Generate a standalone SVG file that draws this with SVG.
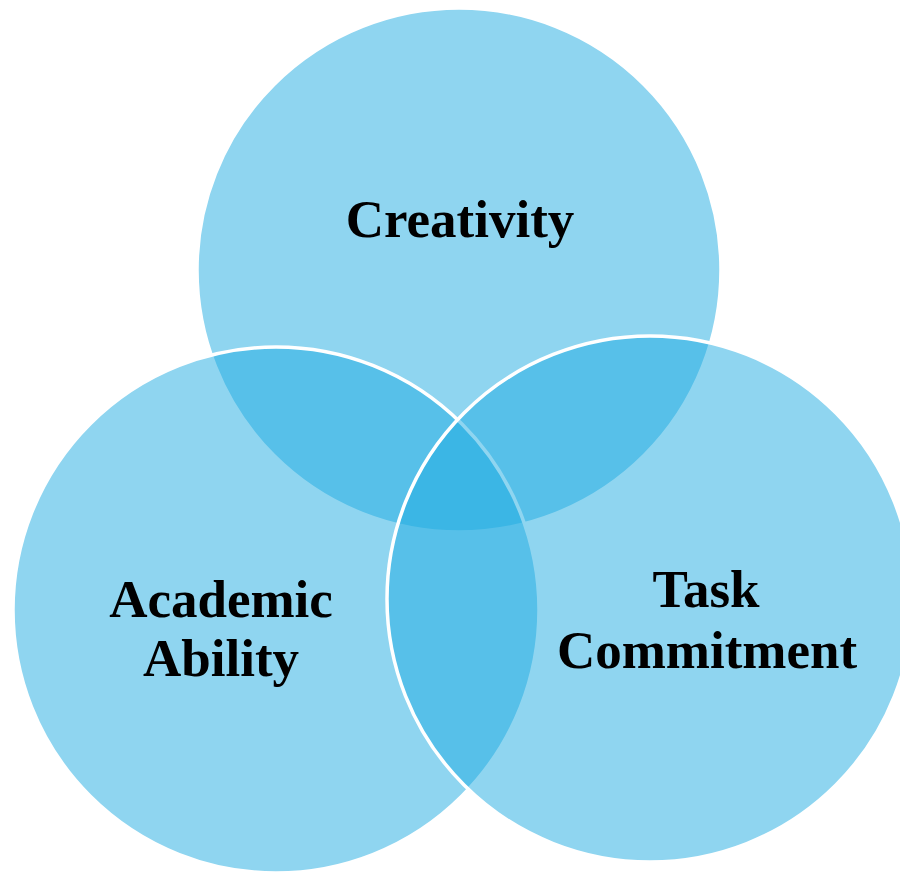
<svg xmlns="http://www.w3.org/2000/svg" width="900" height="872" viewBox="0 0 900 872">
<style>
.c{fill:rgb(31,171,225);fill-opacity:0.5;stroke:#fff;stroke-width:3.5}
.t{font-family:"Liberation Serif","Times New Roman",serif;font-weight:bold;font-size:53px;fill:#000;text-anchor:middle}
</style>
<rect width="900" height="872" fill="#fff"/>
<g id="creativity">
<circle class="c" cx="459" cy="270" r="262"/>
</g>
<g id="academic">
<circle class="c" cx="276" cy="610" r="263"/>
</g>
<g id="task">
<circle class="c" cx="650" cy="599" r="263"/>
</g>
<g id="labels">
<text class="t" x="460" y="237">Creativity</text>
<text class="t" x="221" y="617">Academic</text>
<text class="t" x="221" y="676">Ability</text>
<text class="t" x="706" y="607">Task</text>
<text class="t" x="707" y="668">Commitment</text>
</g>
<g id="connectors"></g>
</svg>
